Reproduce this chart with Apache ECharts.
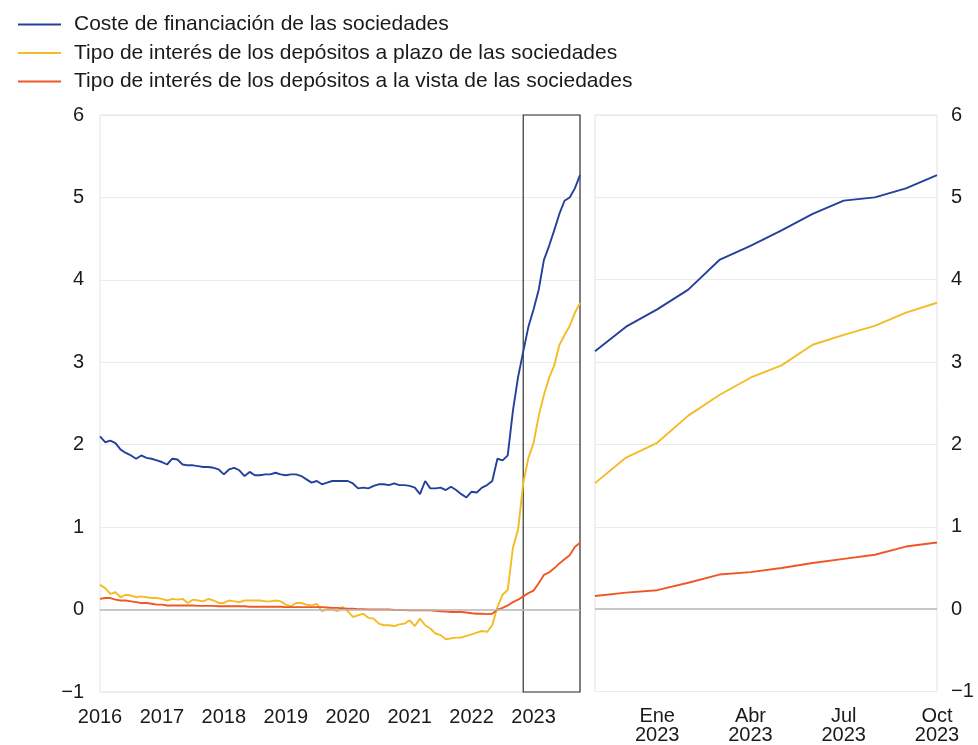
<!DOCTYPE html>
<html>
<head>
<meta charset="utf-8">
<script src="https://cdn.jsdelivr.net/npm/echarts@6/dist/echarts.min.js"></script>
<style>html,body{margin:0;padding:0;background:#fff}#c{width:978px;height:745px}</style>
</head>
<body>
<div id="c"></div>
<script>
// Monthly data, Jan 2016 – Oct 2023
const years = [2016, 2017, 2018, 2019, 2020, 2021, 2022, 2023];
const lastMonth2023 = 10;
const seriesNames = [
  'Coste de financiación de las sociedades',
  'Tipo de interés de los depósitos a plazo de las sociedades',
  'Tipo de interés de los depósitos a la vista de las sociedades'
];
const coste = [
  2.10, 2.03, 2.05, 2.02, 1.94, 1.90, 1.87, 1.83, 1.87, 1.84, 1.83, 1.81,
  1.79, 1.76, 1.83, 1.82, 1.76, 1.75, 1.75, 1.74, 1.73, 1.73, 1.72, 1.70,
  1.64, 1.70, 1.72, 1.69, 1.62, 1.67, 1.63, 1.63, 1.64, 1.64, 1.66, 1.64,
  1.63, 1.64, 1.64, 1.62, 1.58, 1.54, 1.56, 1.52, 1.54, 1.56, 1.56, 1.56,
  1.56, 1.53, 1.47, 1.48, 1.47, 1.50, 1.52, 1.52, 1.51, 1.53, 1.51, 1.51,
  1.50, 1.48, 1.40, 1.56, 1.47, 1.47, 1.48, 1.45, 1.49, 1.45, 1.40, 1.36,
  1.43, 1.42, 1.48, 1.51, 1.56, 1.83, 1.81, 1.87, 2.41, 2.82, 3.13, 3.43,
  3.64, 3.88, 4.24, 4.41, 4.60, 4.80, 4.96, 5.00, 5.11, 5.27
];
const plazo = [
  0.30, 0.26, 0.19, 0.21, 0.15, 0.18, 0.17, 0.15, 0.16, 0.15, 0.14, 0.14,
  0.13, 0.11, 0.13, 0.12, 0.13, 0.08, 0.12, 0.11, 0.10, 0.13, 0.11, 0.08,
  0.08, 0.11, 0.10, 0.09, 0.11, 0.11, 0.11, 0.11, 0.10, 0.10, 0.11, 0.10,
  0.06, 0.04, 0.08, 0.08, 0.06, 0.05, 0.07, -0.02, 0.00, 0.00, -0.02, 0.03,
  -0.02, -0.09, -0.07, -0.05, -0.10, -0.11, -0.17, -0.19, -0.19, -0.20, -0.18, -0.17,
  -0.13, -0.20, -0.11, -0.19, -0.23, -0.29, -0.31, -0.36, -0.35, -0.34, -0.34, -0.32,
  -0.30, -0.28, -0.26, -0.27, -0.19, 0.03, 0.18, 0.24, 0.75, 0.97, 1.53, 1.84,
  2.02, 2.35, 2.60, 2.81, 2.96, 3.21, 3.33, 3.44, 3.60, 3.72
];
const vista = [
  0.13, 0.14, 0.14, 0.12, 0.11, 0.11, 0.10, 0.09, 0.08, 0.08, 0.07, 0.06,
  0.06, 0.05, 0.05, 0.05, 0.05, 0.05, 0.05, 0.045, 0.045, 0.045, 0.045, 0.04,
  0.04, 0.04, 0.04, 0.04, 0.04, 0.035, 0.035, 0.035, 0.035, 0.035, 0.035, 0.035,
  0.03, 0.03, 0.03, 0.03, 0.03, 0.03, 0.03, 0.03, 0.025, 0.02, 0.02, 0.015,
  0.01, 0.01, 0.005, 0.005, 0.0, 0.0, 0.0, 0.0, 0.0, -0.005, -0.005, -0.005,
  -0.01, -0.01, -0.01, -0.01, -0.01, -0.015, -0.02, -0.025, -0.03, -0.03, -0.03, -0.035,
  -0.045, -0.05, -0.05, -0.055, -0.05, 0.0, 0.02, 0.05, 0.09, 0.12, 0.16, 0.20,
  0.23, 0.32, 0.42, 0.45, 0.50, 0.56, 0.61, 0.66, 0.76, 0.81
];
const zoomStart = '2022-11';
const monthAbbr = ['Ene','Feb','Mar','Abr','May','Jun','Jul','Ago','Sep','Oct','Nov','Dic'];
const yTicks = [-1, 0, 1, 2, 3, 4, 5, 6];

// Build month categories
const months = [];
years.forEach(y => {
  const n = (y === 2023) ? lastMonth2023 : 12;
  for (let m = 1; m <= n; m++) months.push(y + '-' + (m < 10 ? '0' + m : m));
});
const zi = months.indexOf(zoomStart);
const monthsZ = months.slice(zi);

const colors = ['#24409c', '#f5bb24', '#ef5726'];
const font = 'Liberation Sans, Arial, Helvetica, sans-serif';
const fs = 20;
const txt = '#1a1a1a';
const yFmt = v => v < 0 ? '\u2212' + Math.abs(v) : String(v);

const chart = echarts.init(document.getElementById('c'), null, {renderer: 'canvas'});

const yAxisCommon = {
  type: 'value', min: yTicks[0], max: yTicks[yTicks.length - 1], interval: 1,
  axisLine: {show: false}, axisTick: {show: false},
  splitLine: {show: true, lineStyle: {color: '#eaeaea', width: 1}},
  axisLabel: {color: txt, fontSize: fs, fontFamily: font, formatter: yFmt}
};

const lineBase = (name, data, color, xi, yi) => ({
  name, type: 'line', data, xAxisIndex: xi, yAxisIndex: yi,
  showSymbol: false, symbol: 'none', smooth: false,
  lineStyle: {color, width: 1.9}, itemStyle: {color}, silent: true, animation: false
});

const zeroLine = {
  silent: true, symbol: ['none', 'none'], label: {show: false},
  lineStyle: {color: '#b8b8b8', type: 'solid', width: 1.5},
  data: [{yAxis: 0}], animation: false
};

const s0 = lineBase(seriesNames[0], coste, colors[0], 0, 0);
s0.markLine = zeroLine;
s0.markArea = {
  silent: true,
  itemStyle: {color: 'rgba(0,0,0,0)', borderColor: '#333', borderWidth: 1.2},
  data: [[{xAxis: zoomStart, yAxis: yTicks[0]}, {xAxis: months[months.length - 1], yAxis: yTicks[yTicks.length - 1]}]]
};
const s3 = lineBase(seriesNames[0], coste.slice(zi), colors[0], 1, 1);
s3.markLine = zeroLine;

chart.setOption({
  animation: false,
  legend: {
    orient: 'vertical', left: 13, top: 9, itemWidth: 43, itemHeight: 2, itemGap: 7.5,
    icon: 'rect',
    textStyle: {color: txt, fontSize: 21, fontFamily: font, lineHeight: 21, padding: [0, 0, 0, 8]},
    data: seriesNames.map((n, i) => ({name: n, itemStyle: {color: colors[i]}}))
  },
  grid: [
    {left: 100, top: 115, width: 480, height: 577, show: true, borderColor: '#e3e3e3', borderWidth: 1, backgroundColor: 'transparent'},
    {left: 595, top: 115, width: 342, height: 577, show: true, borderColor: '#e3e3e3', borderWidth: 1, backgroundColor: 'transparent'}
  ],
  xAxis: [
    {
      type: 'category', gridIndex: 0, data: months, boundaryGap: false,
      axisLine: {show: false}, axisTick: {show: false}, splitLine: {show: false},
      axisLabel: {
        color: txt, fontSize: fs, fontFamily: font, margin: 15,
        interval: (i) => i % 12 === 0,
        formatter: v => v.slice(0, 4)
      }
    },
    {
      type: 'category', gridIndex: 1, data: monthsZ, boundaryGap: false,
      axisLine: {show: false}, axisTick: {show: false}, splitLine: {show: false},
      axisLabel: {
        color: txt, fontSize: fs, fontFamily: font, margin: 15, lineHeight: 19,
        interval: (i, v) => v.slice(5) === '01' || v.slice(5) === '04' || v.slice(5) === '07' || v.slice(5) === '10',
        formatter: v => monthAbbr[parseInt(v.slice(5), 10) - 1] + '\n' + v.slice(0, 4)
      }
    }
  ],
  yAxis: [
    Object.assign({}, yAxisCommon, {gridIndex: 0, position: 'left', axisLabel: Object.assign({}, yAxisCommon.axisLabel, {margin: 16})}),
    Object.assign({}, yAxisCommon, {gridIndex: 1, position: 'right', axisLabel: Object.assign({}, yAxisCommon.axisLabel, {margin: 14})})
  ],
  series: [
    s0,
    lineBase(seriesNames[1], plazo, colors[1], 0, 0),
    lineBase(seriesNames[2], vista, colors[2], 0, 0),
    s3,
    lineBase(seriesNames[1], plazo.slice(zi), colors[1], 1, 1),
    lineBase(seriesNames[2], vista.slice(zi), colors[2], 1, 1)
  ]
});
</script>
</body>
</html>
